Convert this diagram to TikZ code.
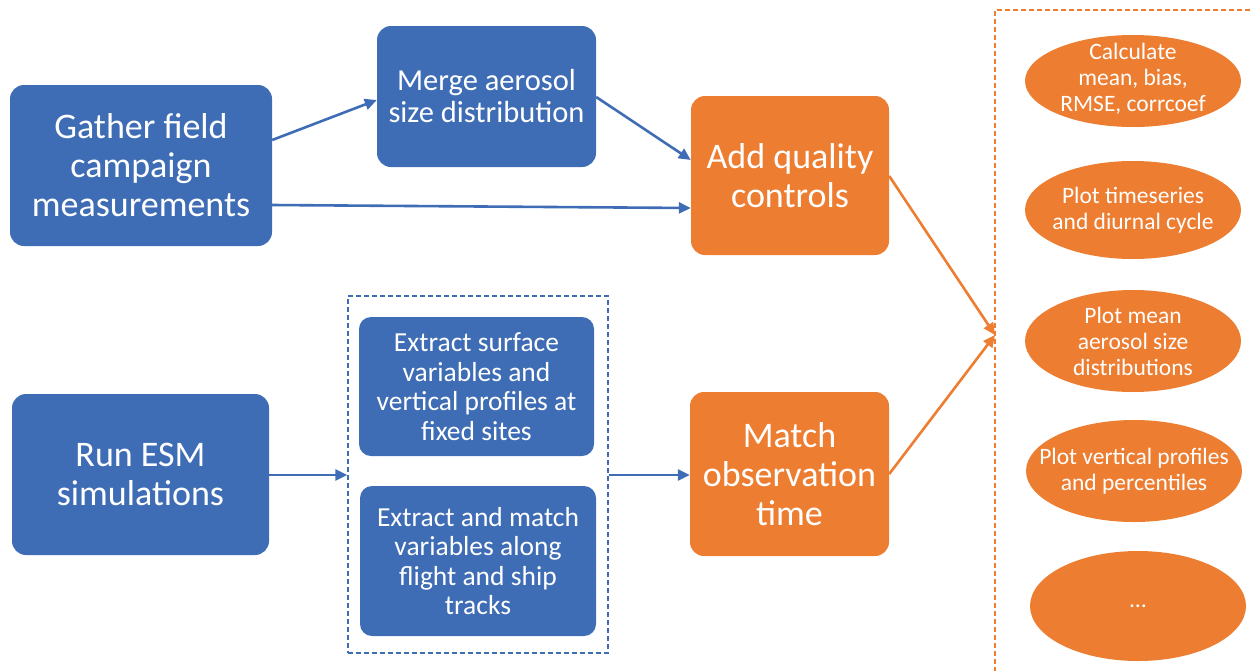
\documentclass[tikz,border=0pt]{standalone}
\usepackage{fontspec}
\setmainfont{Carlito}
\usetikzlibrary{arrows.meta,shapes.geometric}
\definecolor{boxblue}{HTML}{3F6DB5}
\definecolor{boxorange}{HTML}{ED7D31}
\tikzset{
  stagebox/.style={draw=none, rounded corners=14pt, inner sep=0pt, align=center,
    text=white},
  bluebox/.style={stagebox, fill=boxblue},
  orangebox/.style={stagebox, fill=boxorange},
  outcome/.style={ellipse, fill=boxorange, draw=none, inner sep=0pt},
  outcometext/.style={align=center, text=white, inner sep=0pt,
    font=\fontsize{23.5}{26}\selectfont},
  bigtext/.style={font=\fontsize{36}{39}\selectfont},
  midtext/.style={font=\fontsize{30.5}{32}\selectfont},
  smalltext/.style={font=\fontsize{27.5}{29.5}\selectfont},
  bluearrow/.style={draw=boxblue, line width=2.6pt, -{Triangle[length=12pt,width=11pt]}},
  orangearrow/.style={draw=boxorange, line width=2.6pt, -{Triangle[length=12pt,width=11pt]}},
}
\begin{document}
\begin{tikzpicture}[x=1pt,y=-1pt]
\useasboundingbox (0,0) rectangle (1253,670);
\clip (0,0) rectangle (1253,670);

% observation branch
\node[bluebox, bigtext, minimum width=262pt, minimum height=161pt] (gather) at (141,165.5)
  {Gather field\\campaign\\measurements};
\node[bluebox, midtext, minimum width=219pt, minimum height=141pt] (merge) at (486.5,96.5)
  {Merge aerosol\\size distribution};
\node[orangebox, bigtext, minimum width=198pt, minimum height=159pt] (qc) at (790,175.5)
  {Add quality\\controls};

% model branch
\node[bluebox, bigtext, minimum width=257pt, minimum height=161pt] (esm) at (140.5,474.5)
  {Run ESM\\simulations};
\node[bluebox, smalltext, rounded corners=12pt, minimum width=235pt, minimum height=139pt] (surf) at (476.5,386.5)
  {Extract surface\\variables and\\vertical profiles at\\fixed sites};
\node[bluebox, smalltext, rounded corners=12pt, minimum width=236pt, minimum height=150pt] (track) at (478,561)
  {Extract and match\\variables along\\flight and ship\\tracks};
\node[draw=boxblue, line width=1.3pt, dash pattern=on 5pt off 3pt, inner sep=0pt,
  minimum width=260pt, minimum height=357pt] (extract) at (478,474.5) {};
\node[orangebox, bigtext, minimum width=199pt, minimum height=164pt] (match) at (789.5,474)
  {Match\\observation\\time};

% evaluation outputs
\draw[draw=boxorange, line width=1.5pt, dash pattern=on 5pt off 3pt]
  (995,680) -- (995,10) -- (1265,10);
\coordinate (hub) at (995,335);
\node[outcome, minimum width=216pt, minimum height=92pt] (stats) at (1133,81) {};
\node[outcometext] (stats-text) at (1133,79) {Calculate\\mean, bias,\\RMSE, corrcoef};
\node[outcome, minimum width=216pt, minimum height=98pt] (tseries) at (1133,210) {};
\node[outcometext] (tseries-text) at (tseries) {Plot timeseries\\and diurnal cycle};
\node[outcome, minimum width=216pt, minimum height=102pt] (psd) at (1133,341) {};
\node[outcometext] (psd-text) at (psd) {Plot mean\\aerosol size\\distributions};
\node[outcome, minimum width=216pt, minimum height=102pt] (vprof) at (1134,471) {};
\node[outcometext] (vprof-text) at (vprof) {Plot vertical profiles\\and percentiles};
\node[outcome, minimum width=216pt, minimum height=110pt] (more) at (1138,606) {};
\node[outcometext] (more-text) at (more) {\dots};

% connectors
\draw[bluearrow] (gather.east |- 0,140) -- (merge.west |- 0,100);
\draw[bluearrow] (gather.east |- 0,205) -- (qc.west |- 0,208);
\draw[bluearrow] (merge.east |- 0,97) -- (qc.west |- 0,160);
\draw[bluearrow] (esm.east |- 0,475) -- (extract.west |- 0,475);
\draw[bluearrow] (extract.east |- 0,475) -- (match.west |- 0,475);
\draw[orangearrow] (qc.east |- 0,176) -- (hub);
\draw[orangearrow] (match.east |- 0,474) -- (hub);
\end{tikzpicture}
\end{document}
